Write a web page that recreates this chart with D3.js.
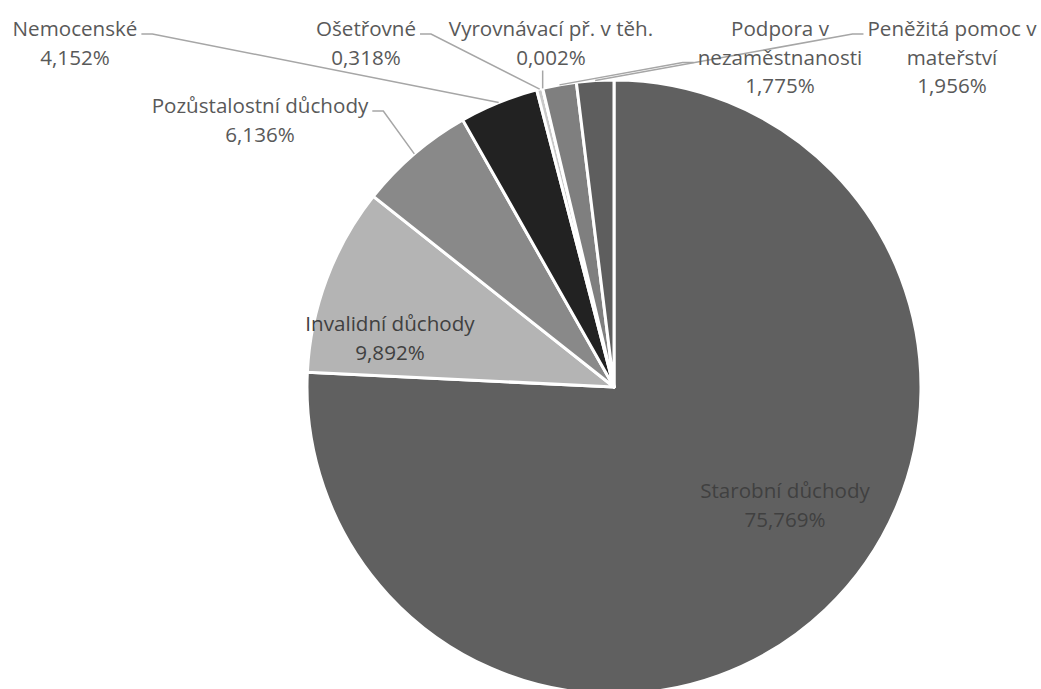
<!DOCTYPE html>
<html>
<head>
<meta charset="utf-8">
<script src="https://cdn.jsdelivr.net/npm/d3@7"></script>
<style>
  body { margin: 0; background: #fff; }
  text { font-family: "Open Sans", sans-serif; }
</style>
</head>
<body>
<div id="chart"></div>
<script>
// data
const categories = ["Starobní důchody", "Invalidní důchody", "Pozůstalostní důchody", "Nemocenské",
    "Ošetřovné", "Vyrovnávací př. v těh.", "Podpora v nezaměstnanosti", "Peněžitá pomoc v mateřství"];
const shares = [75.769, 9.892, 6.136, 4.152, 0.318, 0.002, 1.775, 1.956];
const shareLabels = ["75,769%", "9,892%", "6,136%", "4,152%", "0,318%", "0,002%", "1,775%", "1,956%"];
const labelLines = [["Starobní důchody"], ["Invalidní důchody"], ["Pozůstalostní důchody"], ["Nemocenské"],
    ["Ošetřovné"], ["Vyrovnávací př. v těh."], ["Podpora v", "nezaměstnanosti"], ["Peněžitá pomoc v", "mateřství"]];

// barvy výsečí
const sliceColors = ["#606060", "#b4b4b4", "#898989", "#222222", "#c9c9c9", "#a0a0a0", "#7f7f7f", "#5e5e5e"];

// umístění popisků (střed textu, první řádek) a strana vodicí čáry
const labelLayout = [
    { x: 785, y: 491, inside: true },
    { x: 390, y: 324, inside: true },
    { x: 260, y: 106, side: "right", line: 0 },
    { x: 75, y: 29, side: "right", line: 0 },
    { x: 366, y: 29, side: "right", line: 0 },
    { x: 551, y: 29, side: "bottom" },
    { x: 780, y: 29, side: "left", line: 1 },
    { x: 952, y: 29, side: "left", line: 0 }
];

const width = 1041, height = 689;
const cx = 614, cy = 387, radius = 307;
const lineH = 28.5;

const svg = d3.select("#chart").append("svg")
    .attr("width", width)
    .attr("height", height);

const pie = d3.pie().sort(null).value(d => d);
const arcs = pie(shares);

const arc = d3.arc().innerRadius(0).outerRadius(radius);
const edge = d3.arc().innerRadius(radius).outerRadius(radius);

const g = svg.append("g").attr("transform", `translate(${cx},${cy})`);

g.selectAll("path")
    .data(arcs)
    .join("path")
    .attr("d", arc)
    .attr("fill", (d, i) => sliceColors[i])
    .attr("stroke", "#fff")
    .attr("stroke-width", 3)
    .attr("stroke-linejoin", "round");

// popisky
const leaders = svg.append("g");
const labels = svg.append("g");

arcs.forEach((d, i) => {
    const lay = labelLayout[i];
    const lines = labelLines[i].concat([shareLabels[i]]);
    const t = labels.append("text")
        .attr("text-anchor", "middle")
        .attr("font-size", 20.6)
        .attr("fill", lay.inside ? "#404040" : "#595959");
    lines.forEach((s, k) => {
        t.append("tspan")
            .attr("x", lay.x)
            .attr("y", lay.y + k * lineH)
            .attr("dy", "0.35em")
            .text(s);
    });
    if (lay.inside) return;

    const [ex, ey] = edge.centroid(d);
    const px = cx + ex, py = cy + ey;
    const tspans = t.selectAll("tspan").nodes();
    let pts;
    if (lay.side === "bottom") {
        const yb = lay.y + (lines.length - 1) * lineH + 13;
        pts = [[px, py], [px, yb]];
    } else {
        const w = tspans[lay.line].getComputedTextLength();
        const ly = lay.y + lay.line * lineH + 5;
        const dir = lay.side === "right" ? 1 : -1;
        const ax = lay.x + dir * (w / 2 + 4);
        pts = [[px, py], [ax + dir * 11, ly], [ax, ly]];
    }
    leaders.append("path")
        .attr("d", d3.line()(pts))
        .attr("fill", "none")
        .attr("stroke", "#a6a6a6")
        .attr("stroke-width", 1.5);
});
</script>
</body>
</html>
